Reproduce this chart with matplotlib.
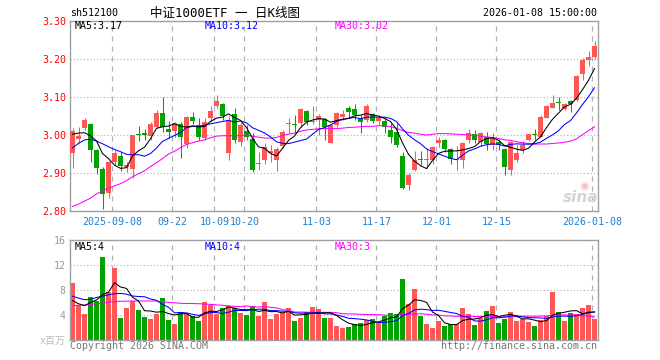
import numpy as np
import matplotlib
matplotlib.use("Agg")
import matplotlib.pyplot as plt
from matplotlib.ticker import FixedLocator

W, H = 660, 360

# daily candles, 2025-08-28 .. 2026-01-08
opens = [2.952, 2.990, 3.018, 3.029, 2.961, 2.911, 2.847, 2.930, 2.945, 2.915,
         2.911, 3.001, 3.004, 2.997, 3.022, 3.059, 3.016, 3.010, 3.029, 2.976,
         3.047, 3.026, 2.993, 3.044, 3.077, 3.082, 2.952, 3.055, 2.981, 3.011,
         2.989, 2.924, 2.934, 2.952, 2.935, 2.972, 3.029, 3.028, 3.031, 3.063,
         3.035, 3.039, 3.041, 2.980, 3.026, 3.048, 3.070, 3.068, 3.046, 3.039,
         3.055, 3.038, 3.037, 3.013, 3.009, 2.945, 2.868, 2.908, 2.936, 2.933,
         2.934, 2.978, 2.987, 2.962, 2.935, 2.934, 2.987, 3.003, 2.982, 2.996,
         2.974, 2.981, 2.963, 2.908, 2.934, 2.961, 2.987, 3.002, 2.996, 3.046,
         3.072, 3.085, 3.068, 3.089, 3.092, 3.160, 3.197, 3.206]
highs = [3.018, 3.022, 3.046, 3.032, 2.964, 2.915, 2.932, 2.960, 2.954, 2.928,
         3.000, 3.023, 3.017, 3.035, 3.065, 3.100, 3.037, 3.035, 3.035, 3.050,
         3.061, 3.046, 3.044, 3.077, 3.105, 3.085, 3.050, 3.070, 3.035, 3.026,
         3.004, 2.956, 2.978, 2.974, 2.968, 3.012, 3.044, 3.053, 3.072, 3.066,
         3.076, 3.055, 3.044, 3.030, 3.061, 3.066, 3.076, 3.082, 3.053, 3.082,
         3.057, 3.053, 3.046, 3.031, 3.032, 2.956, 2.899, 2.959, 2.959, 2.965,
         2.970, 2.996, 2.990, 2.965, 2.971, 2.982, 3.015, 3.013, 3.008, 3.009,
         3.004, 2.989, 2.965, 2.985, 2.974, 2.984, 3.004, 3.015, 3.053, 3.079,
         3.104, 3.101, 3.085, 3.092, 3.158, 3.202, 3.221, 3.247]
lows = [2.914, 2.978, 3.012, 2.930, 2.898, 2.805, 2.833, 2.920, 2.904, 2.903,
        2.887, 2.983, 2.987, 2.987, 3.018, 3.009, 2.991, 2.996, 2.939, 2.965,
        3.030, 2.987, 2.987, 3.035, 3.070, 3.039, 2.934, 2.978, 2.970, 2.987,
        2.902, 2.908, 2.925, 2.928, 2.905, 2.965, 3.004, 3.004, 3.020, 3.026,
        3.030, 3.000, 2.987, 2.978, 3.022, 3.040, 3.044, 3.040, 3.004, 3.035,
        3.031, 3.026, 3.005, 2.978, 2.968, 2.857, 2.855, 2.904, 2.921, 2.912,
        2.925, 2.968, 2.955, 2.924, 2.909, 2.912, 2.980, 2.978, 2.970, 2.961,
        2.961, 2.961, 2.895, 2.896, 2.930, 2.952, 2.985, 2.987, 2.994, 3.044,
        3.070, 3.066, 3.065, 3.061, 3.090, 3.145, 3.182, 3.200]
closes = [3.011, 2.997, 3.039, 2.961, 2.913, 2.846, 2.930, 2.953, 2.919, 2.922,
          3.000, 2.999, 3.000, 3.030, 3.059, 3.020, 3.009, 3.031, 2.996, 3.047,
          3.037, 2.996, 3.035, 3.064, 3.090, 3.050, 3.039, 2.987, 3.026, 2.996,
          2.908, 2.927, 2.969, 2.958, 2.962, 3.009, 3.031, 3.026, 3.068, 3.035,
          3.037, 3.050, 3.020, 3.026, 3.057, 3.055, 3.061, 3.053, 3.035, 3.077,
          3.038, 3.046, 3.022, 2.994, 2.974, 2.860, 2.895, 2.934, 2.933, 2.936,
          2.968, 2.987, 2.962, 2.937, 2.937, 2.980, 3.006, 2.987, 3.004, 2.976,
          2.991, 2.973, 2.917, 2.981, 2.952, 2.974, 3.002, 2.999, 3.048, 3.075,
          3.083, 3.083, 3.081, 3.082, 3.154, 3.197, 3.206, 3.235]
# volume, millions
volumes = [9.17, 5.60, 4.10, 6.93, 6.24, 13.33, 7.73, 11.57, 3.57, 5.07,
           6.24, 4.80, 3.73, 3.36, 4.10, 6.77, 3.20, 2.61, 4.27, 4.27,
           3.90, 3.09, 6.13, 5.60, 4.10, 5.20, 5.40, 5.20, 4.40, 4.00,
           5.40, 3.84, 6.08, 3.36, 4.10, 4.27, 5.17, 3.04, 3.57, 4.43,
           5.33, 4.96, 3.57, 3.47, 2.29, 1.97, 2.13, 2.50, 2.67, 3.20,
           3.36, 2.80, 3.89, 4.37, 4.11, 9.76, 5.76, 8.16, 3.89, 2.56,
           1.97, 3.04, 2.29, 2.51, 2.51, 5.17, 4.16, 2.40, 3.57, 4.64,
           5.44, 2.77, 3.31, 4.43, 3.04, 3.36, 2.83, 2.24, 3.20, 3.89,
           7.63, 4.43, 3.04, 4.27, 4.11, 5.17, 5.60, 3.36]

# moving averages for the first days (history before the window)
ma5_head = [3.002, 3.005, 3.006, 2.998]
ma10_head = [2.966, 2.978, 2.987, 2.989, 2.984, 2.977, 2.969, 2.962, 2.956]
ma30_head = [2.812, 2.818, 2.826, 2.834, 2.845, 2.853, 2.860, 2.866, 2.872, 2.880,
             2.890, 2.898, 2.906, 2.917, 2.927, 2.938, 2.950, 2.957, 2.967, 2.975,
             2.980, 2.984, 2.987, 2.993, 2.997, 2.998, 2.998, 2.998, 2.998]
vma5_head = [6.3, 5.8, 5.5, 6.0]
vma10_head = [7.0, 6.7, 6.45, 6.5, 6.8, 7.0, 7.25, 7.4, 7.45]
vma30_head = [5.50, 5.55, 5.60, 5.70, 5.80, 5.90, 6.05, 6.15, 6.20, 6.22,
              6.24, 6.24, 6.24, 6.24, 6.24, 6.10, 6.03, 5.95, 5.87, 5.85,
              5.83, 5.81, 5.75, 5.70, 5.62, 5.55, 5.45, 5.38, 5.33]

tick_pos = [7, 17, 24, 29, 41, 51, 61, 71, 87]
tick_labels = ["2025-09-08", "09-22", "10-09", "10-20", "11-03", "11-17",
               "12-01", "12-15", "2026-01-08"]


def moving_avg(vals, n, head):
    out = list(head)
    for i in range(len(head), len(vals)):
        out.append(np.mean(vals[i - n + 1:i + 1]))
    return np.array(out)


RED = "#ff5656"
GREEN = "#00a300"
MA5C, MA10C, MA30C = "black", "#0000ff", "#ff00ff"
FRAME = "#a0a0a0"
MONO = "DejaVu Sans Mono"

o, h, l, c = map(np.array, (opens, highs, lows, closes))
v = np.array(volumes)
x = np.arange(len(c))
up = c >= o
cols = np.where(up, RED, GREEN)

ma5 = moving_avg(c, 5, ma5_head)
ma10 = moving_avg(c, 10, ma10_head)
ma30 = moving_avg(c, 30, ma30_head)
vma5 = moving_avg(v, 5, vma5_head)
vma10 = moving_avg(v, 10, vma10_head)
vma30 = moving_avg(v, 30, vma30_head)

fig = plt.figure(figsize=(W / 100, H / 100), dpi=100)
ax = fig.add_axes([70 / W, 1 - 211 / H, 528 / W, 190 / H])
axv = fig.add_axes([70 / W, 1 - 340 / H, 528 / W, 100 / H])

grid_x = [p - 0.35 for p in tick_pos]
for a in (ax, axv):
    a.set_xlim(-0.42, 87.58)
    for s in a.spines.values():
        s.set_color(FRAME)
        s.set_linewidth(1.0)
    a.xaxis.set_major_locator(FixedLocator(grid_x))
    a.tick_params(length=0)
    a.grid(axis="x", color="#b0b0b0", ls=(0, (4, 4)), lw=0.9)
    a.grid(axis="y", color="#b0b0b0", ls=(0, (1, 2)), lw=0.8)
    a.set_axisbelow(True)

# price panel
ax.vlines(x, l, h, colors=cols, lw=0.75, zorder=2)
body_lo = np.minimum(o, c)
body_h = np.maximum(np.abs(c - o), 0.0026)
ax.bar(x, body_h, bottom=body_lo, width=0.82, color=cols, lw=0, zorder=3)
ax.plot(x, ma30, color=MA30C, lw=0.75, zorder=4)
ax.plot(x, ma10, color=MA10C, lw=0.75, zorder=4)
ax.plot(x, ma5, color=MA5C, lw=0.75, zorder=4)
ax.set_ylim(2.80, 3.30)
ax.set_yticks([2.80, 2.90, 3.00, 3.10, 3.20, 3.30])
ax.set_yticklabels([f"{t:.2f}" for t in ax.get_yticks()], color="#ff0000",
                   fontsize=7.2, family=MONO)
ax.set_xticklabels(tick_labels, color="#1f7fd4", fontsize=7.2, family=MONO)
ax.tick_params(axis="y", pad=3)
ax.tick_params(axis="x", pad=4)

# volume panel
axv.bar(x, v, width=0.82, color=cols, lw=0, zorder=2)
axv.plot(x, vma30, color=MA30C, lw=0.75, zorder=4)
axv.plot(x, vma10, color=MA10C, lw=0.75, zorder=4)
axv.plot(x, vma5, color=MA5C, lw=0.75, zorder=4)
axv.set_ylim(0, 16)
axv.set_yticks([0, 4, 8, 12, 16])
axv.set_yticklabels(["", "4", "8", "12", "16"], color="#999999",
                    fontsize=7.2, family=MONO)
axv.set_xticklabels([])
axv.tick_params(axis="y", pad=3)


def ftext(px, py, s, **kw):
    kw.setdefault("fontsize", 7.2)
    kw.setdefault("family", MONO)
    kw.setdefault("va", "center")
    fig.text(px / W, 1 - py / H, s, **kw)


ftext(70, 13, "sh512100")
ftext(150, 13, "中证1000ETF 一 日K线图", fontsize=9,
      family=[MONO, "Noto Sans CJK SC"])
ftext(597, 13, "2026-01-08 15:00:00", ha="right")

ftext(75, 26, f"MA5:{ma5[-1]:.2f}", color=MA5C)
ftext(205, 26, f"MA10:{ma10[-1]:.2f}", color=MA10C)
ftext(335, 26, f"MA30:{ma30[-1]:.2f}", color=MA30C)

ftext(75, 247, f"MA5:{int(vma5[-1])}", color=MA5C)
ftext(205, 247, f"MA10:{int(vma10[-1])}", color=MA10C)
ftext(335, 247, f"MA30:{int(vma30[-1])}", color=MA30C)

ftext(66, 341, "x百万", ha="right", color="#bbbbbb",
      family=[MONO, "Noto Sans CJK SC"])
ftext(70, 346, "Copyright 2026 SINA.COM", color="#777777")
ftext(597, 346, "http://finance.sina.com.cn", ha="right", color="#777777")

# sina watermark
ftext(581, 197, "sina", ha="center", color="#d4d4d4", fontsize=11,
      family="DejaVu Sans", style="italic", weight="bold")
ftext(584, 186, "◉", ha="center", color="#f4c0c0", fontsize=8,
      family="DejaVu Sans")

fig.savefig("out.png", dpi=100)
